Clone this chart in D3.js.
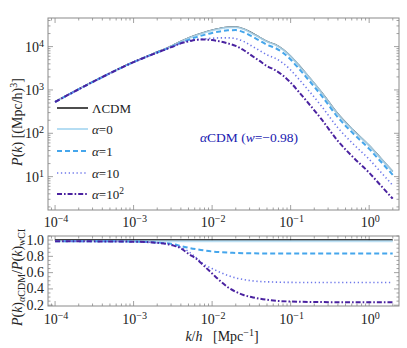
<!DOCTYPE html>
<html><head><meta charset="utf-8">
<script src="https://cdn.jsdelivr.net/npm/d3@7/dist/d3.min.js"></script>
<style>body{margin:0;background:#fff}svg{display:block}</style>
</head><body><svg id="c" width="407" height="348" font-family="'Liberation Serif', 'DejaVu Serif', serif"></svg>
<script>
// ---------- data ----------
const kTop = [1e-4,3.162e-4,1e-3,1.778e-3,3.162e-3,3.981e-3,5.012e-3,6.310e-3,7.943e-3,1e-2,1.259e-2,1.585e-2,1.995e-2,2.512e-2,3.162e-2,3.981e-2,5.012e-2,6.310e-2,7.943e-2,0.1,0.1259,0.1585,0.2512,0.3981,0.6310,1.0,1.413,1.995];
const P_LCDM  = [537,1622,4467,6918,10720,13180,15850,18620,21380,23990,26300,28180,28510,25700,20890,16600,13180,11220,8710,6030,3800,2344,851,282,117,52.5,26.3,13.2];
const P_a0    = [529,1598,4400,6814,10560,12980,15610,18340,21060,23630,25910,27760,28080,25310,20577,16351,12980,11050,8580,5940,3743,2309,838,278,115,51.7,25.9,13.0];
const P_a1    = [529,1598,4387,6731,10184,12231,14344,16516,18643,20631,22408,23840,24005,21562,17485,13878,11005,9369,7273,5035,3173,1957,711,235,97.7,43.8,22.0,11.0];
const P_a10   = [529,1596,4378,6710,10077,11994,13631,14524,14966,15594,15912,15922,15253,13236,10445,8217,6432,5430,4198,2894,1816,1120,407,135,55.9,25.1,12.6,6.31];
const P_a100  = [529,1596,4378,6710,10023,11862,13156,14337,14538,14154,13150,11836,10406,8353,6267,4731,3532,2884,2178,1477,920,563,203,66.8,27.6,12.3,6.18,3.10];

const kRat = [1e-4,3.162e-4,1e-3,1.778e-3,3.162e-3,3.981e-3,5.012e-3,6.310e-3,7.943e-3,1e-2,1.259e-2,1.585e-2,1.995e-2,2.512e-2,3.162e-2,5.623e-2,0.1,0.3162,1.0,1.995];
const R_LCDM = [1,1,1,1,1,1,1,1,1,1,1,1,1,1,1,1,1,1,1,1];
const R_a0   = [0.985,0.985,0.985,0.985,0.985,0.985,0.985,0.985,0.985,0.985,0.985,0.985,0.985,0.985,0.985,0.985,0.985,0.985,0.985,0.985];
const R_a1   = [0.985,0.985,0.982,0.973,0.95,0.928,0.905,0.887,0.872,0.86,0.852,0.846,0.842,0.839,0.837,0.836,0.835,0.835,0.835,0.835];
const R_a10  = [0.985,0.984,0.98,0.97,0.94,0.91,0.86,0.78,0.70,0.65,0.605,0.565,0.535,0.515,0.50,0.485,0.48,0.478,0.478,0.478];
const R_a100 = [0.985,0.984,0.98,0.97,0.935,0.9,0.83,0.77,0.68,0.59,0.50,0.42,0.365,0.325,0.30,0.26,0.245,0.237,0.235,0.235];

const seriesNames = ["ΛCDM","α=0","α=1","α=10","α=10²"];
const xTickExp = [-4,-3,-2,-1,0];
const yTopTickExp = [1,2,3,4];
const yBotTicks = [0.2,0.4,0.6,0.8,1.0];

// ---------- styles ----------
const styles = [
  {color:"#000000", width:1.4, dash:null},
  {color:"#b5ddf3", width:2.0, dash:null, opacity:0.9},
  {color:"#45a6ec", width:2.0, dash:"5,3"},
  {color:"#6e78ea", width:1.6, dash:"1.3,2.6"},
  {color:"#4a22a0", width:2.0, dash:"5,2,1.6,2"}
];
const topSeries = [P_LCDM,P_a0,P_a1,P_a10,P_a100];
const botSeries = [R_LCDM,R_a0,R_a1,R_a10,R_a100];

const svg = d3.select("#c");
const L=48, R=399, T1=18, B1=210, T2=236, B2=306;
const x = d3.scaleLog().domain([Math.pow(10,-4.09), Math.pow(10,0.38)]).range([L,R]);
const yT = d3.scaleLog().domain([Math.pow(10,0.23), Math.pow(10,4.66)]).range([B1,T1]);
const yB = d3.scaleLinear().domain([0.19,1.05]).range([B2,T2]);
const gray="#8a8a8a";

function frame(top,bottom){
  svg.append("rect").attr("x",L).attr("y",top).attr("width",R-L).attr("height",bottom-top)
    .attr("fill","none").attr("stroke",gray).attr("stroke-width",1);
}
function xTicks(top,bottom){
  const g=svg.append("g").attr("stroke",gray).attr("stroke-width",0.8);
  for(let e=-5;e<=0;e++){
    for(let m=1;m<=9;m++){
      const v=m*Math.pow(10,e);
      if(v<x.domain()[0]||v>x.domain()[1]) continue;
      const len = m===1?5:2.5;
      const px=x(v);
      g.append("line").attr("x1",px).attr("x2",px).attr("y1",bottom).attr("y2",bottom-len);
      g.append("line").attr("x1",px).attr("x2",px).attr("y1",top).attr("y2",top+len);
    }
  }
}
function supLabel(parent,xp,yp,base,exp,anchor,size){
  const t=parent.append("text").attr("x",xp).attr("y",yp).attr("text-anchor",anchor)
    .attr("font-size",size).attr("fill","#222");
  t.append("tspan").text(base);
  t.append("tspan").attr("dy",-5).attr("font-size",size*0.72).text(exp);
  return t;
}
function xLabels(yp){
  xTickExp.forEach(e=>{
    supLabel(svg,x(Math.pow(10,e))+1,yp,"10",e<0?"−"+(-e):String(e),"middle",14);
  });
}

// top panel
frame(T1,B1);
xTicks(T1,B1);
{
  const g=svg.append("g").attr("stroke",gray).attr("stroke-width",0.8);
  for(let e=0;e<=4;e++){
    for(let m=1;m<=9;m++){
      const v=m*Math.pow(10,e);
      if(v<yT.domain()[0]||v>yT.domain()[1]) continue;
      const len=m===1?5:2.5, py=yT(v);
      g.append("line").attr("x1",L).attr("x2",L+len).attr("y1",py).attr("y2",py);
      g.append("line").attr("x1",R).attr("x2",R-len).attr("y1",py).attr("y2",py);
    }
  }
  yTopTickExp.forEach(e=>{
    supLabel(svg,44,yT(Math.pow(10,e))+5,"10",String(e),"end",14);
  });
}
xLabels(227);

// bottom panel
frame(T2,B2);
xTicks(T2,B2);
{
  const g=svg.append("g").attr("stroke",gray).attr("stroke-width",0.8);
  for(let v=0.2;v<=1.0501;v+=0.05){
    const major=Math.abs(v*5-Math.round(v*5))<1e-6;
    const len=major?5:2.5, py=yB(v);
    g.append("line").attr("x1",L).attr("x2",L+len).attr("y1",py).attr("y2",py);
    g.append("line").attr("x1",R).attr("x2",R-len).attr("y1",py).attr("y2",py);
  }
  yBotTicks.forEach(v=>{
    svg.append("text").attr("x",44).attr("y",yB(v)+4.5).attr("text-anchor","end")
      .attr("font-size",14).attr("fill","#222").text(v.toFixed(1));
  });
}
xLabels(324);

// clip paths
const defs=svg.append("defs");
defs.append("clipPath").attr("id","cT").append("rect").attr("x",L).attr("y",T1).attr("width",R-L).attr("height",B1-T1);
defs.append("clipPath").attr("id","cB").append("rect").attr("x",L).attr("y",T2).attr("width",R-L).attr("height",B2-T2);
defs.append("clipPath").attr("id","cYL").append("rect").attr("x",0).attr("y",229).attr("width",40).attr("height",119);

// lines
const lineT=d3.line().x((d,i)=>x(kTop[i])).y(d=>yT(d)).curve(d3.curveMonotoneX);
const lineB=d3.line().x((d,i)=>x(kRat[i])).y(d=>yB(d)).curve(d3.curveMonotoneX);
const gT=svg.append("g").attr("clip-path","url(#cT)");
const gB=svg.append("g").attr("clip-path","url(#cB)");
[0,1,2,3,4].forEach(i=>{
  const s=styles[i];
  gT.append("path").attr("d",lineT(topSeries[i])).attr("fill","none").attr("stroke",s.color)
    .attr("stroke-width",s.width).attr("stroke-dasharray",s.dash).attr("opacity",s.opacity||1);
  gB.append("path").attr("d",lineB(botSeries[i])).attr("fill","none").attr("stroke",s.color)
    .attr("stroke-width",s.width).attr("stroke-dasharray",s.dash).attr("opacity",s.opacity||1);
});

// legend
const legY=[108,129,151,173,194];
seriesNames.forEach((n,i)=>{
  const s=styles[i];
  svg.append("line").attr("x1",57).attr("x2",88).attr("y1",legY[i]).attr("y2",legY[i])
    .attr("stroke",s.color).attr("stroke-width",s.width).attr("stroke-dasharray",s.dash);
  const t=svg.append("text").attr("x",92).attr("y",legY[i]+4.5).attr("font-size",13).attr("fill","#222");
  if(i===0){ t.text(n); }
  else {
    t.append("tspan").attr("font-style","italic").text("α");
    if(i===4){ t.append("tspan").text("=10"); t.append("tspan").attr("dy",-5).attr("font-size",9.5).text("2"); }
    else t.append("tspan").text(n.slice(1));
  }
});

// annotation
{
  const t=svg.append("text").attr("x",200).attr("y",142).attr("font-size",13.5).attr("fill","#2020b0");
  t.append("tspan").attr("font-style","italic").text("α");
  t.append("tspan").text("CDM (");
  t.append("tspan").attr("font-style","italic").text("w");
  t.append("tspan").text("=−0.98)");
}

// axis titles
{
  const t=svg.append("text").attr("transform","translate(22,122) rotate(-90)").attr("text-anchor","middle")
    .attr("font-size",14).attr("fill","#222");
  t.append("tspan").attr("font-style","italic").text("P");
  t.append("tspan").text("(");
  t.append("tspan").attr("font-style","italic").text("k");
  t.append("tspan").text(")  [(Mpc/h)");
  t.append("tspan").attr("dy",-5).attr("font-size",10).text("3");
  t.append("tspan").attr("dy",5).text("]");
}
{
  const g=svg.append("g").attr("clip-path","url(#cYL)");
  const t=g.append("text").attr("transform","translate(22,271) rotate(-90)").attr("text-anchor","middle")
    .attr("font-size",14).attr("fill","#222");
  t.append("tspan").attr("font-style","italic").text("P");
  t.append("tspan").text("(");
  t.append("tspan").attr("font-style","italic").text("k");
  t.append("tspan").text(")");
  t.append("tspan").attr("dy",3).attr("font-size",10).attr("font-style","italic").text("α");
  t.append("tspan").attr("font-size",10).text("CDM");
  t.append("tspan").attr("dy",-3).text("/");
  t.append("tspan").attr("font-style","italic").text("P");
  t.append("tspan").text("(");
  t.append("tspan").attr("font-style","italic").text("k");
  t.append("tspan").text(")");
  t.append("tspan").attr("dy",3).attr("font-size",10).text("wCDM");
}
{
  const t=svg.append("text").attr("x",222).attr("y",341).attr("text-anchor","middle")
    .attr("font-size",14).attr("fill","#222");
  t.append("tspan").attr("font-style","italic").text("k");
  t.append("tspan").text("/");
  t.append("tspan").attr("font-style","italic").text("h");
  t.append("tspan").attr("xml:space","preserve").text("   [Mpc");
  t.append("tspan").attr("dy",-5).attr("font-size",10).text("−1");
  t.append("tspan").attr("dy",5).text("]");
}
</script></body></html>
